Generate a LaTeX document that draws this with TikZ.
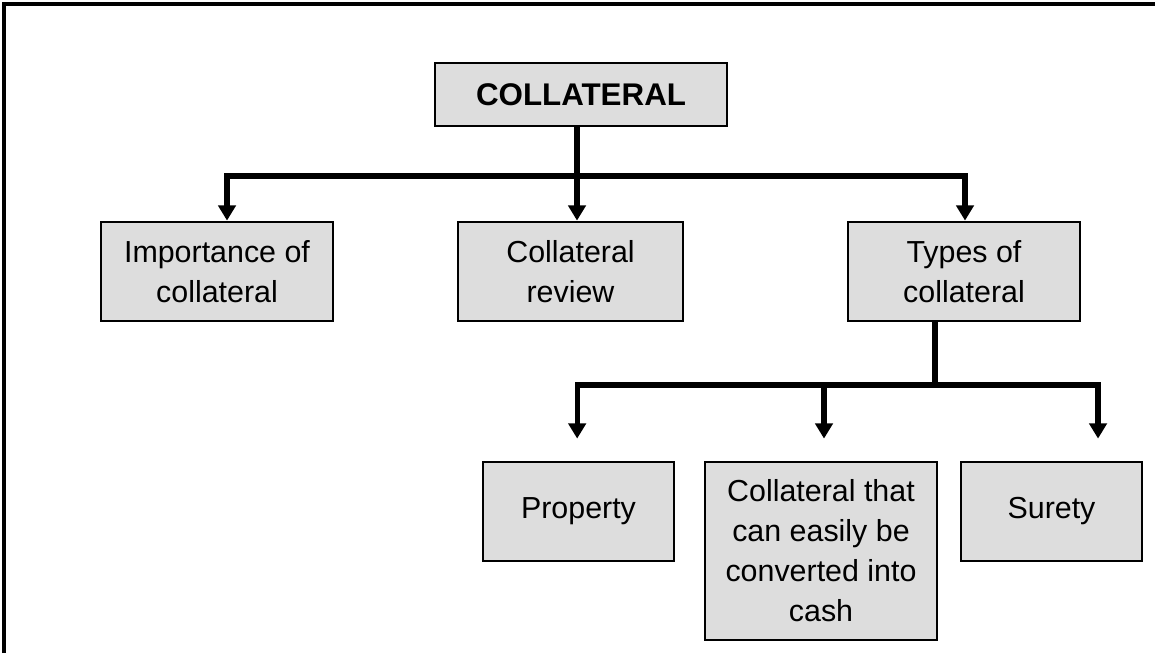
\documentclass[tikz,border=0pt]{standalone}
\usepackage{fontspec}
\setmainfont{Liberation Sans}
\usetikzlibrary{arrows.meta}
\definecolor{boxgrey}{HTML}{DDDDDD}
\begin{document}
\begin{tikzpicture}[x=0.75pt,y=-0.75pt,
  box/.style={draw=black, line width=2.1pt, fill=boxgrey, rectangle,
    inner sep=0pt, align=center, font=\fontsize{22.8}{30}\selectfont},
  link/.style={line width=4pt, line join=miter},
  arr/.style={link, -{Triangle[width=13pt,length=11.5pt]}},
  frameline/.style={line width=2.6pt}]
  \useasboundingbox (0,0) rectangle (1155,653);
  % page frame, top and left edges
  \draw[frameline] (4,653) -- (4,4) -- (1155,4);

  % boxes
  \node[box, minimum width=219pt, minimum height=47.25pt,
        font=\bfseries\fontsize{23.5}{30}\selectfont] (top) at (581,94.5) {COLLATERAL};
  \node[box, minimum width=174pt, minimum height=74.25pt] (imp) at (217,271.5) {Importance of\\collateral};
  \node[box, minimum width=168.75pt, minimum height=74.25pt] (rev) at (570.5,271.5) {Collateral\\review};
  \node[box, minimum width=174pt, minimum height=74.25pt] (typ) at (964,271.5) {Types of\\collateral};
  \node[box, minimum width=143.25pt, minimum height=74.25pt] (prop) at (578.5,511.5) {Property};
  \node[box, minimum width=174pt, minimum height=133.5pt] (cash) at (821,551) {Collateral that\\can easily be\\converted into\\cash};
  \node[box, minimum width=135.75pt, minimum height=74.25pt] (sur) at (1051.5,511.5) {Surety};

  % first level branches
  \coordinate (j1) at (577,176);
  \draw[link] (top.south -| j1) -- (j1);
  \draw[arr] (j1) -| ([xshift=7.5pt]imp.north);
  \draw[arr] (j1) -- (j1 |- rev.north);
  \draw[arr] (j1) -| ([xshift=0.75pt]typ.north);

  % second level branches
  \coordinate (j2) at (935,385);
  \draw[link] (typ.south -| j2) -- (j2);
  \draw[arr] (j2) -| ([xshift=-1pt,yshift=16.5pt]prop.north);
  \draw[arr] (j2) -| ([xshift=2.25pt,yshift=16.5pt]cash.north);
  \draw[arr] (j2) -| ([xshift=34.9pt,yshift=16.5pt]sur.north);
\end{tikzpicture}
\end{document}
